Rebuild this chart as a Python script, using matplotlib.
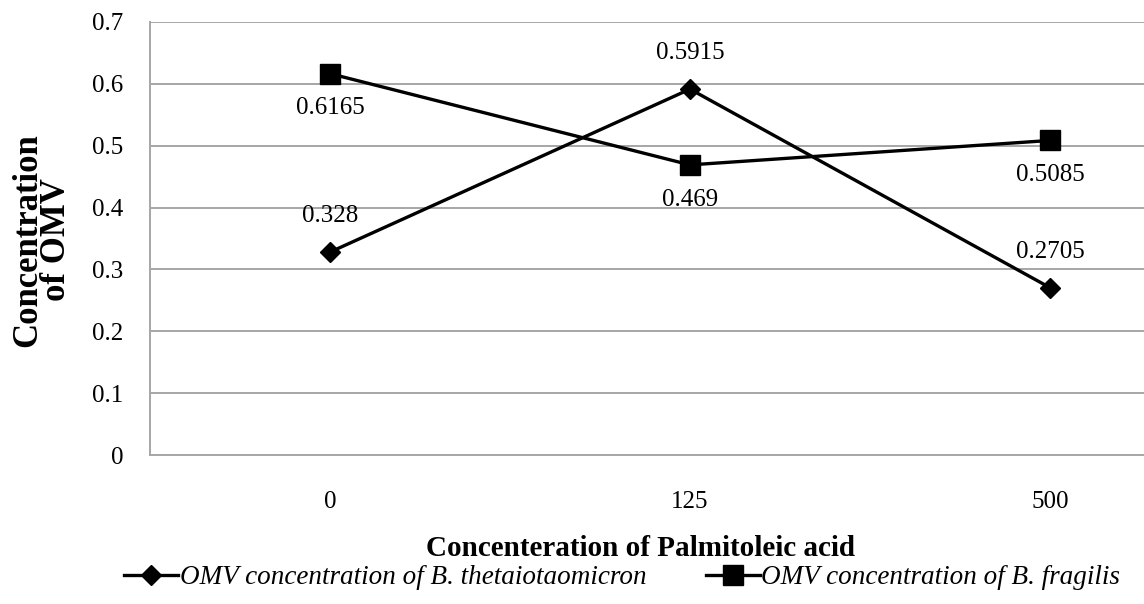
import matplotlib
matplotlib.use('Agg')
import matplotlib.pyplot as plt

categories = ['0', '125', '500']
theta_vals = [0.328, 0.5915, 0.2705]
fragilis_vals = [0.6165, 0.469, 0.5085]
theta_name = 'OMV concentration of B. thetaiotaomicron'
fragilis_name = 'OMV concentration of B. fragilis'
yticks = [0, 0.1, 0.2, 0.3, 0.4, 0.5, 0.6, 0.7]

plt.rcParams['font.family'] = ['Liberation Serif', 'DejaVu Serif']

fig = plt.figure(figsize=(11.44, 6.04), dpi=100)
ax = fig.add_axes([150 / 1144, 1 - 455 / 604, 1 - 150 / 1144, (455 - 22) / 604])

x = list(range(len(categories)))
ax.plot(x, theta_vals, color='black', lw=2.4, marker='D', markersize=10, label=theta_name)
ax.plot(x, fragilis_vals, color='black', lw=2.4, marker='s', markersize=14, label=fragilis_name)

for xi, v in zip(x, theta_vals):
    ax.annotate(str(v), (xi, v), xytext=(0, 26), textcoords='offset points',
                ha='center', va='center', fontsize=18)
for xi, v in zip(x, fragilis_vals):
    ax.annotate(str(v), (xi, v), xytext=(0, -25), textcoords='offset points',
                ha='center', va='center', fontsize=18)

ax.set_ylim(0, 0.7)
ax.set_yticks(yticks)
ax.set_yticklabels(['0' if t == 0 else f'{t:.1f}' for t in yticks], fontsize=18)
ax.set_xlim(-0.5, -0.5 + (1144 - 150) / 360)
ax.set_xticks(x)
ax.set_xticklabels(categories, fontsize=18)
ax.tick_params(length=0, pad=19)
ax.tick_params(axis='x', pad=26)
ax.grid(axis='y', color='#a6a6a6', lw=1.4)
ax.set_axisbelow(True)
for s in ['top', 'right']:
    ax.spines[s].set_visible(False)
for s in ['left', 'bottom']:
    ax.spines[s].set_color('#a6a6a6')
    ax.spines[s].set_linewidth(1.4)

fig.text(42 / 1144, 1 - 240 / 604, 'Concentration\nof OMV', rotation=90, ha='center', va='center',
         fontsize=25, fontweight='bold', linespacing=0.85)
fig.text(640 / 1144, 1 - 549 / 604, 'Concenteration of Palmitoleic acid', ha='center', va='center',
         fontsize=21, fontweight='bold')

leg = fig.legend(loc='center left', bbox_to_anchor=(124 / 1144, 1 - 578 / 604), ncol=2,
                 frameon=False, prop={'style': 'italic', 'size': 19.5}, handlelength=2.0,
                 handletextpad=0.05, columnspacing=2.2, borderaxespad=0, borderpad=0)

fig.savefig('out.png', dpi=100)
